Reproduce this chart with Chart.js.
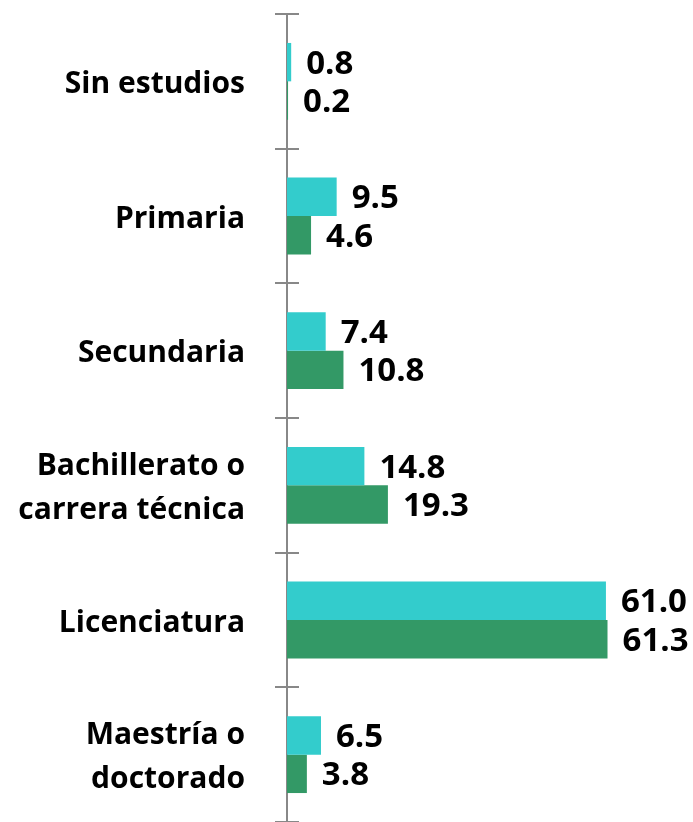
<!DOCTYPE html>
<html>
<head>
<meta charset="utf-8">
<script src="https://cdn.jsdelivr.net/npm/chart.js@4/dist/chart.umd.min.js"></script>
<style>
  html, body { margin: 0; padding: 0; background: #fff; }
  #wrap { width: 693px; height: 822px; }
</style>
</head>
<body>
<div id="wrap"><canvas id="myChart" width="693" height="822"></canvas></div>
<script>
var categories = ["Sin estudios", "Primaria", "Secundaria", ["Bachillerato o", "carrera técnica"], "Licenciatura", ["Maestría o", "doctorado"]]
var serieA = [0.8, 9.5, 7.4, 14.8, 61.0, 6.5]
var serieB = [0.2, 4.6, 10.8, 19.3, 61.3, 3.8]

var fontName = "'Open Sans', sans-serif"

// value labels at the end of each bar
var valueLabels = {
  id: 'valueLabels',
  afterDatasetsDraw: function(chart) {
    var ctx = chart.ctx
    ctx.save()
    ctx.font = "bold 33px " + fontName
    ctx.fillStyle = "#000"
    ctx.textBaseline = "middle"
    ctx.textAlign = "left"
    chart.data.datasets.forEach(function(ds, i) {
      chart.getDatasetMeta(i).data.forEach(function(bar, j) {
        ctx.fillText(ds.data[j].toFixed(1), bar.x + 15, bar.y + 2)
      })
    })
    ctx.restore()
  }
}

// small tick marks crossing the axis line between categories
var crossTicks = {
  id: 'crossTicks',
  afterDraw: function(chart) {
    var ctx = chart.ctx
    var y = chart.scales.y
    var step = (y.bottom - y.top) / categories.length
    ctx.save()
    ctx.strokeStyle = "#888"
    ctx.lineWidth = 2
    for (var i = 0; i <= categories.length; i++) {
      var py = Math.round(y.top + i * step)
      ctx.beginPath()
      ctx.moveTo(y.right - 12, py)
      ctx.lineTo(y.right + 12, py)
      ctx.stroke()
    }
    ctx.restore()
  }
}

var ctx = document.getElementById('myChart').getContext('2d')
var chart = new Chart(ctx, {
  type: 'bar',
  data: {
    labels: categories,
    datasets: [{
      data: serieA,
      backgroundColor: '#33CCCC',
      categoryPercentage: 0.57,
      barPercentage: 1.0
    }, {
      data: serieB,
      backgroundColor: '#339966',
      categoryPercentage: 0.57,
      barPercentage: 1.0
    }]
  },
  options: {
    indexAxis: 'y',
    responsive: false,
    animation: false,
    layout: { padding: { top: 14, right: 40, left: 0, bottom: -2 } },
    plugins: {
      legend: { display: false },
      tooltip: { enabled: false }
    },
    scales: {
      x: {
        display: false,
        min: 0,
        max: 70
      },
      y: {
        afterFit: function(scale) {
          scale.width = 287
          scale.paddingTop = 0
          scale.paddingBottom = 0
        },
        grid: { display: false, drawTicks: false },
        border: { display: true, color: '#888', width: 2 },
        ticks: {
          color: '#000',
          padding: 42,
          labelOffset: 3,
          font: { family: fontName, size: 30, weight: 'bold', lineHeight: 1.45 }
        }
      }
    }
  },
  plugins: [valueLabels, crossTicks]
})
</script>
</body>
</html>
